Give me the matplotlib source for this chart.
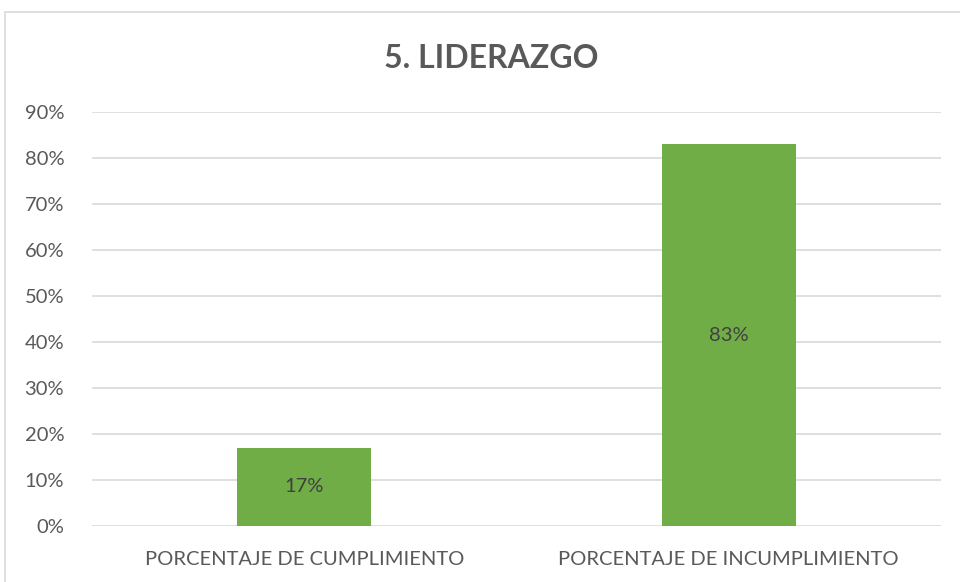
import matplotlib
matplotlib.use('Agg')
import matplotlib.pyplot as plt
from matplotlib.patches import Rectangle
from matplotlib.ticker import PercentFormatter

categorias = ['PORCENTAJE DE CUMPLIMIENTO', 'PORCENTAJE DE INCUMPLIMIENTO']
valores = [0.17, 0.83]
etiquetas = ['17%', '83%']
titulo = '5. LIDERAZGO'

plt.rcParams['font.family'] = ['Lato', 'DejaVu Sans']
gris = '#595959'
verde = '#70AD47'

fig = plt.figure(figsize=(9.6, 5.82), dpi=100)
# marco del grafico
fig.patches.append(Rectangle((5/960, -0.1), 1.1, 1 - 12/582 + 0.1,
                             transform=fig.transFigure, fill=False,
                             edgecolor='#D9D9D9', linewidth=1.2))
ax = fig.add_axes([92/960, 1 - 526/582, 849/960, 414/582])

x = range(len(categorias))
bars = ax.bar(x, valores, width=0.316, color=verde, zorder=3)
for b, t in zip(bars, etiquetas):
    ax.text(b.get_x() + b.get_width()/2, b.get_height()/2, t,
            ha='center', va='center', fontsize=14.5, color='#404040', zorder=4)

ax.set_xlim(-0.5, 1.5)
ax.set_ylim(0, 0.9)
ax.set_yticks([i/10 for i in range(10)])
ax.yaxis.set_major_formatter(PercentFormatter(1.0, decimals=0))
ax.set_xticks(list(x))
ax.set_xticklabels(categorias)
ax.grid(axis='y', color='#D9D9D9', linewidth=1.2, zorder=0)
for s in ax.spines.values():
    s.set_visible(False)
ax.tick_params(length=0, labelsize=14.5, colors=gris)
ax.tick_params(axis='y', pad=20)
ax.tick_params(axis='x', pad=18)

fig.text(491/960, 1 - 59/582, titulo, ha='center', va='center',
         fontsize=23, fontweight='bold', color=gris)

fig.savefig('out.png', dpi=100)
